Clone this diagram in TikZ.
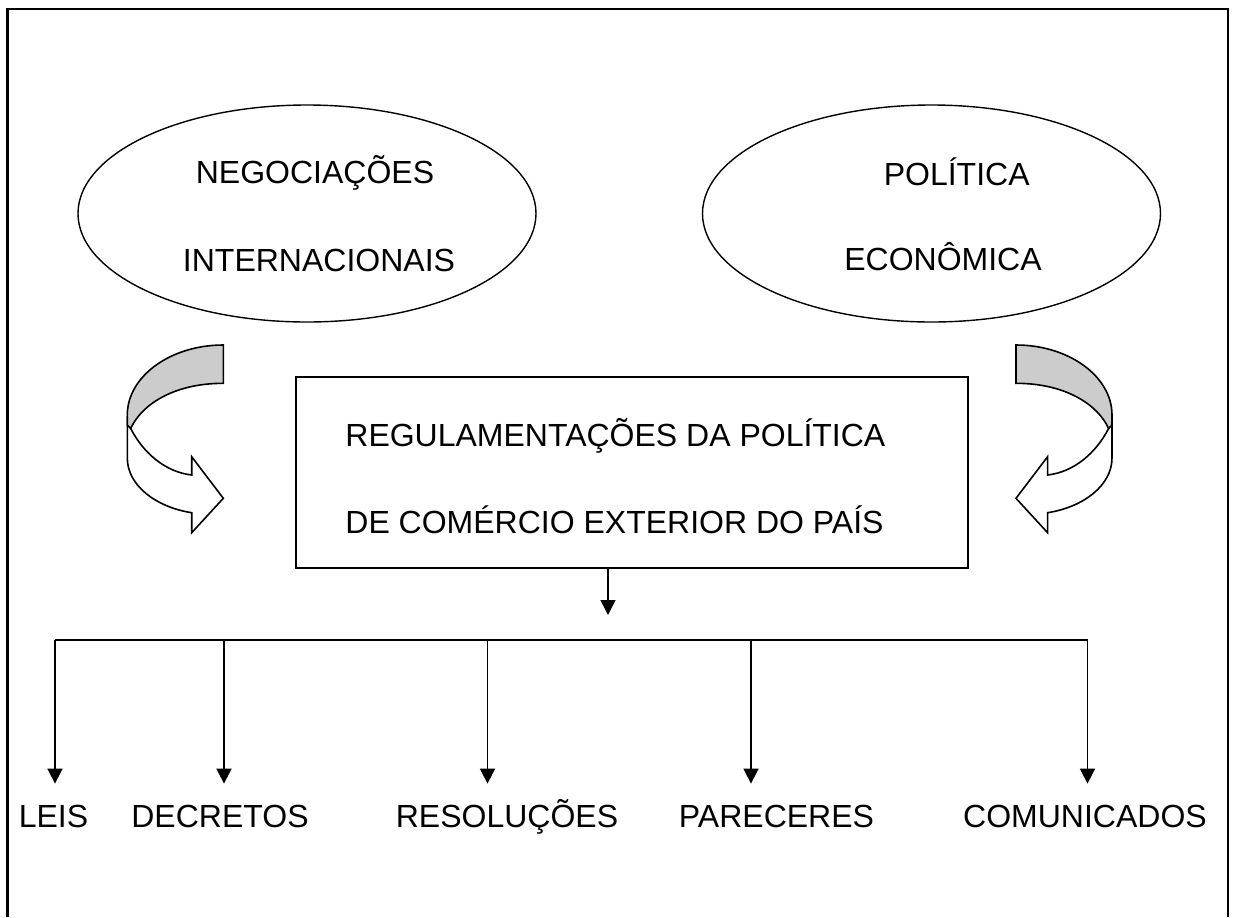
\documentclass[tikz,border=0pt]{standalone}
\usepackage{fontspec}
\setmainfont{Liberation Sans}
\usetikzlibrary{shapes.geometric,arrows.meta}
\tikzset{
  elipse/.style={draw,ellipse,line width=0.7pt,inner sep=0pt,minimum width=229pt,minimum height=108.5pt},
  caixa/.style={draw,rectangle,line width=0.9pt,inner sep=0pt,minimum width=336pt,minimum height=95.5pt},
  rotulo/.style={inner xsep=0pt,inner ysep=10pt,text height=11.5pt,text depth=3pt,anchor=base},
  seta/.style={line width=0.8pt,-{Triangle[length=7.5pt,width=7.5pt]}},
  linha/.style={line width=0.8pt},
  setacurva/.pic={
    \draw[line width=0.8pt,fill=white](-92.6,83.5) .. controls (-80,108) and (-58,127) .. (-31.6,130)--(-31.6,111.7)--(0,153.3)--(-31.6,187.7)--(-31.6,167.7) .. controls (-68,162) and (-96,140) .. (-96,113)--(-96,75)--cycle;
    \draw[line width=0.8pt,fill=gray!40](0,0) .. controls (-53,0) and (-96,31.5) .. (-96,70)--(-96,80)--(-92.6,83.5) .. controls (-82,60) and (-50,38.3) .. (0,38.3)--cycle;
  }
}
\begin{document}
\begin{tikzpicture}[x={(0.5pt,0pt)},y={(0pt,-0.5pt)},font=\fontsize{16}{19}\selectfont]
\useasboundingbox (0,0) rectangle (1233,917);
\draw[line width=1.2pt](7.5,917)--(7.5,9)--(1228,9)--(1228,917);
\node[elipse] (neg) at (307,213.5) {};
\node[anchor=base] (neg1) at (315,183.3) {NEGOCIAÇÕES};
\node[anchor=base] (neg2) at (319,271.7) {INTERNACIONAIS};
\node[elipse] (eco) at (931.5,213.5) {};
\node[anchor=base] (eco1) at (956.7,185) {POLÍTICA};
\node[anchor=base] (eco2) at (943,270) {ECONÔMICA};
\node[caixa] (reg) at (632,472.5) {};
\node[anchor=base west,inner sep=0pt] (reg1) at (345,446.7) {REGULAMENTAÇÕES DA POLÍTICA};
\node[anchor=base west,inner sep=0pt] (reg2) at (345,533.3) {DE COMÉRCIO EXTERIOR DO PAÍS};
\pic at (223.3,345) {setacurva};
\pic[xscale=-1] at (1016,345) {setacurva};
\coordinate (saida) at (608,615);
\draw[seta](reg.south -| saida)--(saida);
\foreach \x/\n in {55/1,224/2,487.5/3,751/4,1087.5/5}
  \coordinate (b\n) at (\x,640);
\draw[linha](b1)--(b5);
\node[rotulo] (leis) at (53.5,827) {LEIS};
\node[rotulo] (decretos) at (220,827) {DECRETOS};
\node[rotulo] (resolucoes) at (507,827) {RESOLUÇÕES};
\node[rotulo] (pareceres) at (776.5,827) {PARECERES};
\node[rotulo] (comunicados) at (1085,827) {COMUNICADOS};
\foreach \n/\r in {1/leis,2/decretos,3/resolucoes,4/pareceres,5/comunicados}
  \draw[seta](b\n)--(b\n |- \r.north);
\end{tikzpicture}
\end{document}
